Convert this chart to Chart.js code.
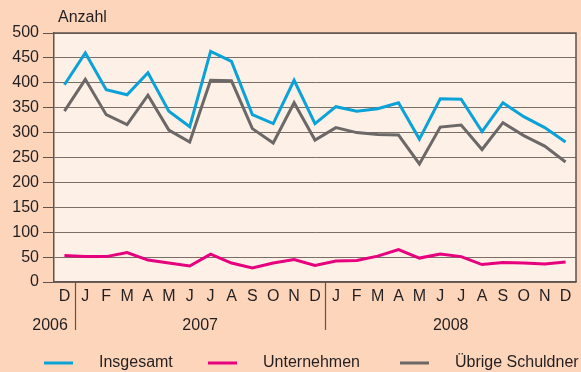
<!DOCTYPE html>
<html>
<head>
<meta charset="utf-8">
<script src="https://cdn.jsdelivr.net/npm/chart.js@4"></script>
<style>
    html, body { margin: 0; padding: 0; background: #fdd5bb; }
    canvas { display: block; }
</style>
</head>
<body>
<canvas id="schuldnerChart" width="581" height="372"></canvas>
<script>
// Monate Dez 2006 bis Dez 2008
const months = ['D', 'J', 'F', 'M', 'A', 'M', 'J', 'J', 'A', 'S', 'O', 'N', 'D',
    'J', 'F', 'M', 'A', 'M', 'J', 'J', 'A', 'S', 'O', 'N', 'D'];
const years = ['2006', '2007', '2008'];

const insgesamt = [396, 460, 386, 376, 420, 343, 312, 463, 443, 336, 318, 405, 318,
    352, 343, 348, 360, 287, 368, 367, 302, 360, 332, 310, 281];
const unternehmen = [53, 51, 51, 59, 44, 38, 32, 56, 38, 28, 38, 45, 33,
    42, 43, 52, 65, 48, 56, 51, 35, 39, 38, 36, 40];
const uebrigeSchuldner = [343, 407, 336, 316, 375, 305, 281, 405, 404, 308, 279, 360, 285,
    310, 300, 296, 295, 237, 311, 315, 266, 320, 294, 273, 241];

const yTicks = [0, 50, 100, 150, 200, 250, 300, 350, 400, 450, 500];

const FONT = '"Liberation Sans", Arial, sans-serif';
const LINE_DARK = '#5e534d';

/**
 * Hintergrund, Rahmen, Jahreszeile und Legende
 */
const decorations = {
    id: 'decorations',
    beforeDraw(chart) {
        const ctx = chart.ctx;
        const area = chart.chartArea;
        ctx.save();
        ctx.fillStyle = '#fdd5bb';
        ctx.fillRect(0, 0, chart.width, chart.height);
        ctx.fillStyle = '#fdf0e6';
        ctx.fillRect(area.left, area.top, area.right - area.left, area.bottom - area.top);
        ctx.restore();
    },
    afterDraw(chart) {
        const ctx = chart.ctx;
        const area = chart.chartArea;
        const x = chart.scales.x;

        ctx.save();
        // Rahmen oben und rechts
        ctx.strokeStyle = LINE_DARK;
        ctx.lineWidth = 1.5;
        ctx.beginPath();
        ctx.moveTo(area.left, area.top);
        ctx.lineTo(area.right, area.top);
        ctx.lineTo(area.right, area.bottom);
        ctx.stroke();

        // Trennlinien zwischen den Jahren
        const sep1 = (x.getPixelForValue(0) + x.getPixelForValue(1)) / 2;
        const sep2 = (x.getPixelForValue(12) + x.getPixelForValue(13)) / 2;
        ctx.lineWidth = 1.2;
        [sep1, sep2].forEach(sx => {
            ctx.beginPath();
            ctx.moveTo(Math.round(sx) + 0.5, area.bottom);
            ctx.lineTo(Math.round(sx) + 0.5, area.bottom + 48);
            ctx.stroke();
        });

        // Jahreszeile
        const yearY = area.bottom + 44;
        ctx.fillStyle = '#231f20';
        ctx.font = '16px ' + FONT;
        ctx.textBaseline = 'middle';
        ctx.textAlign = 'right';
        ctx.fillText(years[0], sep1 - 7, yearY);
        ctx.textAlign = 'center';
        ctx.fillText(years[1], (x.getPixelForValue(1) + x.getPixelForValue(12)) / 2, yearY);
        ctx.fillText(years[2], (x.getPixelForValue(13) + x.getPixelForValue(24)) / 2, yearY);

        // Legende
        const legendX = [44, 208, 400];
        const legendY = 363;
        ctx.textAlign = 'left';
        chart.data.datasets.forEach((ds, i) => {
            ctx.strokeStyle = ds.borderColor;
            ctx.lineWidth = 3;
            ctx.beginPath();
            ctx.moveTo(legendX[i], legendY);
            ctx.lineTo(legendX[i] + 29, legendY);
            ctx.stroke();
            ctx.fillStyle = '#231f20';
            ctx.fillText(ds.label, legendX[i] + 55, legendY);
        });

        // Achsentitel
        ctx.fillText('Anzahl', 58, 18);
        ctx.restore();
    }
};

function initializeChart() {
    const canvas = document.querySelector('#schuldnerChart');
    new Chart(canvas, {
        type: 'line',
        data: {
            labels: months,
            datasets: [
                { label: 'Insgesamt', data: insgesamt, borderColor: '#0ba2d8' },
                { label: 'Unternehmen', data: unternehmen, borderColor: '#e6007e' },
                { label: 'Übrige Schuldner', data: uebrigeSchuldner, borderColor: '#6b6867' }
            ].map(ds => Object.assign(ds, {
                borderWidth: 3,
                pointRadius: 0,
                tension: 0,
                fill: false
            }))
        },
        options: {
            responsive: false,
            animation: false,
            devicePixelRatio: 1,
            layout: {
                padding: { left: 0, top: 33, right: 5, bottom: 0 }
            },
            plugins: {
                legend: { display: false },
                tooltip: { enabled: false }
            },
            scales: {
                x: {
                    type: 'category',
                    offset: true,
                    afterFit: scale => { scale.height = 90; },
                    grid: {
                        drawOnChartArea: false,
                        drawTicks: false
                    },
                    border: { color: LINE_DARK, width: 1.5 },
                    ticks: {
                        color: '#231f20',
                        padding: 5,
                        autoSkip: false,
                        maxRotation: 0,
                        font: { family: FONT, size: 16 }
                    }
                },
                y: {
                    min: 0,
                    max: 500,
                    afterFit: scale => { scale.width = 54; },
                    afterBuildTicks: scale => {
                        scale.ticks = yTicks.map(v => ({ value: v }));
                    },
                    grid: {
                        color: '#7a6e67',
                        lineWidth: 1,
                        tickLength: 11,
                        tickColor: LINE_DARK
                    },
                    border: { color: LINE_DARK, width: 1.5 },
                    ticks: {
                        color: '#231f20',
                        padding: 4,
                        font: { family: FONT, size: 16 }
                    }
                }
            }
        },
        plugins: [decorations]
    });
}

document.addEventListener('DOMContentLoaded', initializeChart);
</script>
</body>
</html>
